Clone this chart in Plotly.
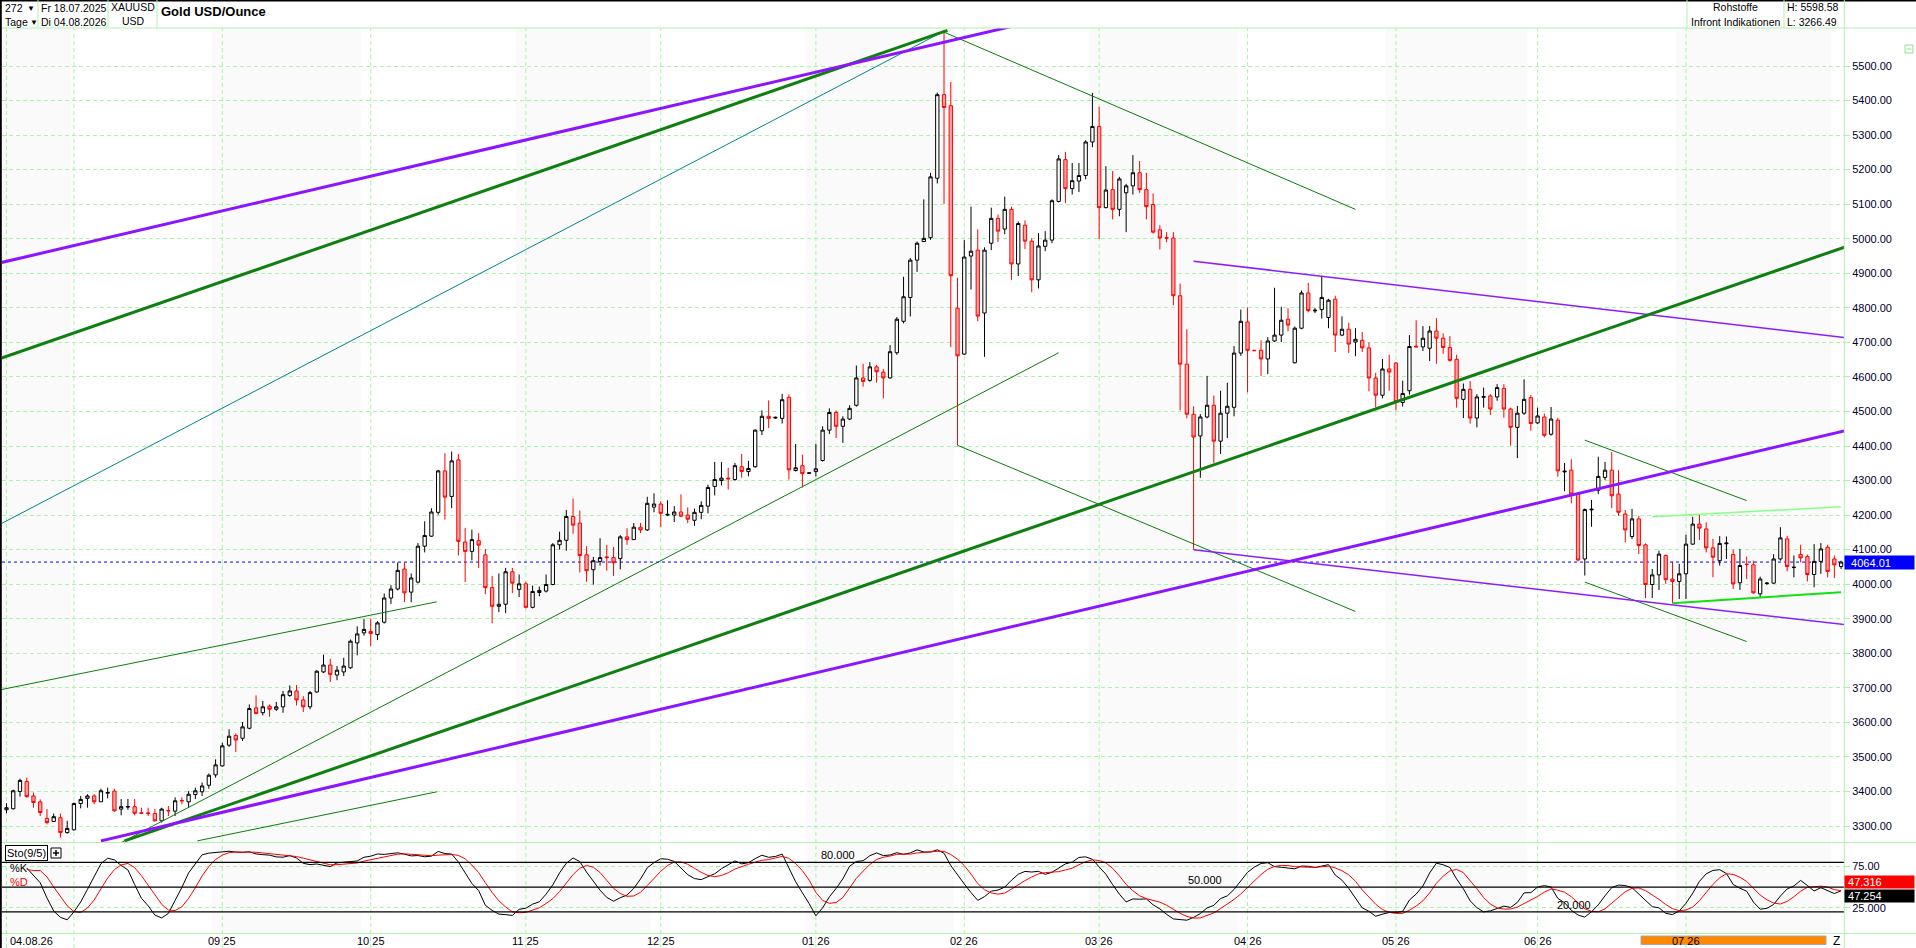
import numpy as np
import pandas as pd
import plotly.graph_objects as go

# ---------------- data ----------------
sessions = pd.bdate_range("2025-07-18", "2026-08-04")   # 273 daily sessions
bar = np.arange(len(sessions))

open_ = [
    3347, 3350, 3400, 3429, 3387, 3370, 3322, 3313, 3324, 3281,
    3289, 3365, 3380, 3387, 3370, 3395, 3401, 3349, 3355, 3356,
    3338, 3338, 3336, 3315, 3345, 3343, 3374, 3370, 3391, 3399,
    3418, 3448, 3474, 3534, 3562, 3554, 3583, 3642, 3628, 3647,
    3638, 3645, 3678, 3691, 3665, 3645, 3688, 3746, 3766, 3737,
    3746, 3758, 3830, 3859, 3863, 3854, 3890, 3960, 3986, 4044,
    3977, 4006, 4110, 4139, 4208, 4328, 4254, 4360, 4122, 4095,
    4126, 4085, 3990, 3936, 3942, 4036, 3985, 4001, 3933, 3976,
    3980, 3999, 4114, 4127, 4196, 4177, 4085, 4042, 4066, 4079,
    4077, 4074, 4137, 4129, 4165, 4157, 4223, 4232, 4200, 4200,
    4209, 4200, 4185, 4208, 4226, 4283, 4300, 4307, 4303, 4340,
    4326, 4340, 4444, 4486, 4481, 4480, 4541, 4329, 4343, 4321,
    4326, 4358, 4446, 4497, 4457, 4478, 4518, 4597, 4590, 4629,
    4614, 4597, 4670, 4761, 4830, 4938, 4992, 5003, 5175, 5417,
    5385, 4799, 4666, 4950, 4967, 4785, 4987, 5059, 5028, 5085,
    4927, 5039, 4993, 4881, 4978, 4996, 5108, 5229, 5145, 5167,
    5183, 5280, 5325, 5090, 5142, 5085, 5133, 5153, 5191, 5142,
    5099, 5026, 5003, 5002, 4835, 4637, 4492, 4429, 4484, 4518,
    4414, 4495, 4512, 4669, 4759, 4677, 4677, 4652, 4704, 4721,
    4767, 4641, 4741, 4843, 4791, 4795, 4772, 4825, 4721, 4738,
    4701, 4706, 4684, 4597, 4547, 4623, 4640, 4526, 4560, 4689,
    4687, 4683, 4733, 4712, 4685, 4651, 4535, 4564, 4481, 4541,
    4545, 4542, 4567, 4507, 4454, 4495, 4540, 4467, 4484, 4434,
    4475, 4325, 4330, 4261, 4073, 4215, 4272, 4309, 4330, 4261,
    4203, 4138, 4189, 4114, 3999, 4027, 4083, 4015, 4008, 4030,
    4116, 4174, 4160, 4105, 4068, 4117, 4086, 4004, 4058, 4056,
    3972, 4002, 4003, 4073, 4131, 4048, 4086, 4080, 4028, 4066,
    4107, 4073, 4051,
]
high = [
    3366, 3405, 3437, 3440, 3397, 3377, 3349, 3336, 3336, 3315,
    3368, 3387, 3392, 3392, 3408, 3411, 3408, 3378, 3378, 3378,
    3353, 3353, 3349, 3353, 3358, 3383, 3383, 3401, 3411, 3426,
    3452, 3493, 3541, 3580, 3568, 3601, 3652, 3678, 3662, 3652,
    3659, 3691, 3707, 3708, 3676, 3691, 3751, 3796, 3784, 3763,
    3787, 3840, 3878, 3900, 3900, 3893, 3973, 3997, 4063, 4063,
    4031, 4119, 4182, 4220, 4331, 4379, 4384, 4377, 4163, 4158,
    4148, 4102, 4024, 4031, 4047, 4047, 4028, 4007, 3996, 3993,
    4028, 4119, 4152, 4215, 4248, 4213, 4110, 4079, 4133, 4114,
    4108, 4142, 4162, 4177, 4177, 4253, 4263, 4240, 4243, 4226,
    4260, 4222, 4219, 4240, 4288, 4354, 4354, 4337, 4351, 4377,
    4357, 4448, 4503, 4532, 4485, 4551, 4549, 4406, 4375, 4323,
    4406, 4457, 4509, 4503, 4486, 4518, 4633, 4638, 4643, 4635,
    4623, 4692, 4773, 4890, 4944, 4992, 5114, 5191, 5423, 5598.58,
    5454, 4887, 4996, 5093, 5027, 4975, 5090, 5070, 5122, 5093,
    5050, 5053, 5001, 5016, 5022, 5114, 5242, 5251, 5219, 5219,
    5285, 5422, 5382, 5210, 5196, 5179, 5159, 5242, 5225, 5191,
    5131, 5039, 5019, 5019, 4870, 4738, 4515, 4492, 4603, 4546,
    4560, 4583, 4689, 4795, 4801, 4678, 4706, 4715, 4858, 4803,
    4799, 4746, 4850, 4872, 4800, 4893, 4826, 4835, 4775, 4757,
    4741, 4730, 4700, 4612, 4652, 4664, 4643, 4589, 4721, 4764,
    4747, 4747, 4770, 4726, 4718, 4664, 4581, 4588, 4550, 4569,
    4550, 4579, 4579, 4511, 4516, 4593, 4548, 4511, 4494, 4513,
    4482, 4351, 4362, 4266, 4219, 4244, 4369, 4354, 4383, 4330,
    4215, 4218, 4198, 4118, 4044, 4097, 4086, 4065, 4059, 4143,
    4195, 4203, 4179, 4131, 4139, 4138, 4100, 4102, 4080, 4068,
    4022, 4006, 4087, 4165, 4140, 4083, 4114, 4086, 4116, 4119,
    4114, 4083, 4068,
]
low = [
    3337, 3348, 3385, 3382, 3353, 3329, 3305, 3312, 3266.49, 3278,
    3287, 3351, 3353, 3363, 3370, 3380, 3341, 3331, 3347, 3331,
    3334, 3329, 3313, 3310, 3329, 3329, 3363, 3353, 3378, 3387,
    3408, 3440, 3472, 3529, 3514, 3546, 3580, 3623, 3620, 3616,
    3633, 3628, 3674, 3649, 3630, 3638, 3686, 3743, 3717, 3722,
    3734, 3755, 3794, 3851, 3821, 3838, 3886, 3943, 3982, 3948,
    3948, 4002, 4092, 4137, 4201, 4187, 4220, 4083, 4006, 4069,
    4047, 3971, 3887, 3919, 3916, 3974, 3963, 3930, 3930, 3965,
    3976, 3997, 4100, 4097, 4146, 4034, 4007, 3999, 4054, 4039,
    4024, 4043, 4114, 4129, 4148, 4154, 4208, 4165, 4197, 4180,
    4194, 4177, 4169, 4188, 4205, 4257, 4286, 4274, 4299, 4308,
    4312, 4337, 4432, 4452, 4479, 4465, 4303, 4326, 4280, 4320,
    4312, 4355, 4435, 4423, 4409, 4475, 4514, 4572, 4586, 4583,
    4538, 4595, 4664, 4755, 4775, 4904, 4990, 4997, 5160, 5101,
    4686, 4402, 4664, 4853, 4761, 4658, 4967, 4990, 5013, 4881,
    4892, 4970, 4845, 4856, 4964, 4987, 5105, 5103, 5128, 5135,
    5172, 5265, 4999, 5088, 5056, 5065, 5019, 5128, 5133, 5056,
    5015, 4969, 4990, 4807, 4503, 4480, 4100, 4308, 4480, 4351,
    4377, 4423, 4486, 4661, 4555, 4675, 4603, 4608, 4701, 4701,
    4732, 4639, 4738, 4787, 4785, 4769, 4741, 4672, 4718, 4669,
    4660, 4672, 4558, 4512, 4538, 4560, 4503, 4514, 4549, 4685,
    4675, 4646, 4638, 4667, 4644, 4511, 4481, 4465, 4454, 4511,
    4490, 4531, 4482, 4401, 4365, 4490, 4444, 4463, 4425, 4430,
    4311, 4269, 4234, 4066, 4025, 4166, 4261, 4301, 4220, 4198,
    4121, 4131, 4087, 3960, 3960, 3983, 4001, 3945, 3957, 3957,
    4114, 4128, 4092, 4020, 4054, 4073, 3986, 3983, 4015, 3972,
    3962, 3998, 4001, 4068, 4037, 4020, 4063, 4008, 3991, 4030,
    4020, 4018, 4044,
]
close = [
    3353, 3402, 3432, 3385, 3368, 3339, 3310, 3327, 3281, 3293,
    3365, 3377, 3387, 3370, 3402, 3397, 3344, 3356, 3356, 3337,
    3337, 3336, 3315, 3349, 3344, 3373, 3373, 3392, 3402, 3416,
    3447, 3477, 3532, 3560, 3549, 3587, 3640, 3626, 3645, 3638,
    3645, 3680, 3691, 3665, 3645, 3686, 3748, 3766, 3739, 3751,
    3763, 3835, 3856, 3869, 3857, 3888, 3960, 3986, 4040, 3975,
    4018, 4110, 4141, 4209, 4328, 4252, 4357, 4124, 4095, 4129,
    4113, 3990, 3936, 3942, 4036, 4003, 4001, 3933, 3979, 3982,
    3999, 4114, 4127, 4196, 4171, 4083, 4039, 4068, 4077, 4077,
    4062, 4137, 4129, 4165, 4157, 4234, 4232, 4205, 4202, 4209,
    4197, 4188, 4208, 4228, 4280, 4303, 4307, 4305, 4343, 4326,
    4335, 4446, 4486, 4480, 4483, 4534, 4331, 4337, 4320, 4322,
    4334, 4446, 4497, 4457, 4478, 4509, 4597, 4587, 4629, 4615,
    4597, 4673, 4767, 4832, 4938, 4987, 5001, 5179, 5417, 5380,
    4893, 4661, 4947, 4964, 4776, 4967, 5059, 5022, 5085, 4927,
    5044, 4993, 4881, 4979, 4996, 5110, 5231, 5145, 5168, 5183,
    5280, 5325, 5090, 5141, 5085, 5173, 5153, 5191, 5142, 5093,
    5019, 5002, 5002, 4835, 4637, 4492, 4426, 4484, 4518, 4414,
    4495, 4515, 4669, 4761, 4677, 4676, 4652, 4704, 4721, 4764,
    4750, 4741, 4843, 4792, 4793, 4830, 4822, 4721, 4738, 4695,
    4709, 4684, 4597, 4547, 4623, 4614, 4528, 4552, 4688, 4687,
    4712, 4733, 4712, 4685, 4648, 4538, 4564, 4481, 4542, 4543,
    4507, 4569, 4507, 4454, 4495, 4535, 4465, 4487, 4431, 4478,
    4328, 4327, 4261, 4070, 4216, 4217, 4312, 4330, 4256, 4208,
    4157, 4189, 4112, 3999, 4027, 4087, 4013, 4008, 4030, 4116,
    4174, 4162, 4105, 4078, 4118, 4119, 4001, 4054, 4057, 3975,
    4015, 4003, 4073, 4134, 4051, 4049, 4076, 4028, 4066, 4102,
    4037, 4056, 4064.01,
]
assert len(open_) == len(high) == len(low) == len(close) == len(sessions)

last_price = 4064.01
stoch_k_last, stoch_d_last = "47.254", "47.316"
stoch_levels = [80, 50, 20]
stoch_level_labels = ["80.000", "50.000", "20.000"]
stoch_level_label_bar = [120.6, 175.0, 229.7]

# drawn trendlines: (bar0, price0, bar1, price1)
purple_thick = [(-1, 4930, 150, 5619), (14, 3257, 273, 4446)]
green_thick = [(-1, 4653, 139.5, 5603), (17.5, 3257, 273, 4979)]
teal_thin = [(-1, 4173, 139, 5601)]
green_thin = [(139, 5598, 200, 5085), (17, 3252, 156, 4670), (28.3, 3257, 63.8, 3399),
              (-1, 3694, 63.8, 3949), (141, 4402, 200, 3921),
              (234, 4417, 258, 4242), (234, 4006, 258, 3834)]
purple_thin = [(176, 4100, 273, 3882), (176, 4935, 273, 4713)]
lime_pale = [(244, 4195, 272, 4224)]
lime_bright = [(247, 3945, 272, 3977)]

# ---------------- indicator: Stochastic (9/5) ----------------
hs, ls, cs = pd.Series(high), pd.Series(low), pd.Series(close)
hh = hs.rolling(9, min_periods=1).max()
ll = ls.rolling(9, min_periods=1).min()
raw_k = 100 * (cs - ll) / (hh - ll)
pct_k = raw_k.rolling(5, min_periods=1).mean()
pct_d = pct_k.rolling(5, min_periods=1).mean()

# ---------------- layout geometry ----------------
W, HGT = 1916, 948
ML, MR, MT, MB = 2, 72, 28, 15
PW, PH = W - ML - MR, HGT - MT - MB
FONT = "Liberation Sans, Arial, sans-serif"
GRID = "#a8f5a8"
BORDER = "#b0f0b0"


def X(px):
    return (px - ML) / PW


def Y(py):
    return (HGT - MB - py) / PH


fig = go.Figure()

# month shading + month separators
per = pd.Series(bar, index=sessions.to_period("M"))
groups = [(m, g.values) for m, g in per.groupby(level=0)]
shapes = []
grid_pos, grid_lab = [], []
for k, (m, vals) in enumerate(groups):
    first, last = int(vals[0]), int(vals[-1])
    if k % 2 == 0:
        shapes.append(dict(type="rect", xref="x", yref="paper", x0=max(first - 0.5, -0.67),
                           x1=last + 0.5, y0=0, y1=1, fillcolor="#fafafa",
                           line=dict(width=0), layer="below"))
    if k <= 1:
        grid_pos.append(first); grid_lab.append(None)
    elif k < len(groups) - 1:
        grid_pos.append(first + 1); grid_lab.append(f"{m.month:02d} {m.year % 100:02d}")

for gx in grid_pos:
    shapes.append(dict(type="line", xref="x", yref="paper", x0=gx, x1=gx, y0=Y(948), y1=1,
                       line=dict(color=GRID, width=1, dash="4px,3px"), layer="below"))

# stochastic reference lines
for lv in stoch_levels:
    shapes.append(dict(type="line", xref="paper", yref="y2", x0=0, x1=1, y0=lv, y1=lv,
                       line=dict(color="black", width=1.3)))

# last price line
shapes.append(dict(type="line", xref="paper", yref="y", x0=0, x1=1, y0=last_price, y1=last_price,
                   line=dict(color="#0000ff", width=1, dash="3px,3px"), layer="below"))


def hline(py, x0=-0.01, x1=X(W), color=BORDER, width=1):
    shapes.append(dict(type="line", xref="paper", yref="paper", x0=x0, x1=x1, y0=Y(py), y1=Y(py),
                       line=dict(color=color, width=width)))


def vline(px, py0, py1, color=BORDER, width=1):
    shapes.append(dict(type="line", xref="paper", yref="paper", x0=X(px), x1=X(px), y0=Y(py0),
                       y1=Y(py1), line=dict(color=color, width=width)))


hline(28)
hline(842.5)
hline(933.5)
hline(0.5, color="black", width=2)
vline(1844.3, 28, 948)
vline(0.8, 0, 948, color="black", width=2)
for sx in (38, 108, 157, 1687, 1784, 1844.3):
    vline(sx, 0, 28)
# small collapse icon
shapes.append(dict(type="rect", xref="paper", yref="paper", x0=X(1905), x1=X(1913), y0=Y(53), y1=Y(45),
                   line=dict(color="#90e090", width=1)))
shapes.append(dict(type="line", xref="paper", yref="paper", x0=X(1906.5), x1=X(1911.5), y0=Y(49), y1=Y(49),
                   line=dict(color="#90e090", width=1)))
# "+" box next to the indicator name
shapes.append(dict(type="rect", xref="paper", yref="paper", x0=X(51), x1=X(61), y0=Y(858), y1=Y(848),
                   fillcolor="white", line=dict(color="black", width=1)))
shapes.append(dict(type="line", xref="paper", yref="paper", x0=X(53), x1=X(59), y0=Y(853), y1=Y(853),
                   line=dict(color="black", width=1.5)))
shapes.append(dict(type="line", xref="paper", yref="paper", x0=X(56), x1=X(56), y0=Y(850), y1=Y(856),
                   line=dict(color="black", width=1.5)))
# orange period bar
shapes.append(dict(type="rect", xref="paper", yref="paper", x0=X(1641), x1=X(1826), y0=Y(944.5), y1=Y(936),
                   fillcolor="#ff8800", line=dict(color="#a8a8a8", width=1)))

# ---------------- traces ----------------
fig.add_trace(go.Candlestick(
    x=bar, open=open_, high=high, low=low, close=close,
    increasing=dict(line=dict(color="black", width=1), fillcolor="white"),
    decreasing=dict(line=dict(color="#ff0000", width=1), fillcolor="#f5a3a3"),
    whiskerwidth=0, hoverinfo="skip", showlegend=False, xaxis="x", yaxis="y"))


def add_lines(segs, color, width):
    for x0, y0, x1, y1 in segs:
        fig.add_trace(go.Scatter(x=[x0, x1], y=[y0, y1], mode="lines", xaxis="x", yaxis="y",
                                 line=dict(color=color, width=width), hoverinfo="skip",
                                 showlegend=False))


add_lines(teal_thin, "#00868b", 1)
add_lines(green_thin, "#0a7d0a", 1)
add_lines(purple_thin, "#8c1cff", 1.5)
add_lines(lime_pale, "#88ff88", 1.5)
add_lines(lime_bright, "#11e011", 2)
add_lines(green_thick, "#0f7f0f", 3)
add_lines(purple_thick, "#8c14ff", 3)

start = 3
fig.add_trace(go.Scatter(x=bar[start:], y=pct_k.values[start:], mode="lines", xaxis="x", yaxis="y2",
                         line=dict(color="black", width=1), hoverinfo="skip", showlegend=False))
fig.add_trace(go.Scatter(x=bar[start:], y=pct_d.values[start:], mode="lines", xaxis="x", yaxis="y2",
                         line=dict(color="#ff0000", width=1), hoverinfo="skip", showlegend=False))

# ---------------- annotations ----------------
ann = []


def note(text, px, py, xanchor="left", size=11, color="black", **kw):
    ann.append(dict(text=text, x=X(px), y=Y(py), xref="paper", yref="paper", xanchor=xanchor,
                    yanchor="middle", showarrow=False,
                    font=dict(family=FONT, size=size, color=color), **kw))


# header
note("272", 3, 8, size=10.5)
note("▼", 25, 8, size=8)
note("Tage", 3, 22, size=10.5)
note("▼", 28, 22, size=8)
note("Fr 18.07.2025", 39, 8, size=10.5)
note("Di 04.08.2026", 39, 22, size=10.5)
note("XAUUSD", 133, 7, xanchor="center", size=10.5)
note("USD", 133, 21, xanchor="center", size=10.5)
note("<b>Gold USD/Ounce</b>", 159, 12, size=13)
note("Rohstoffe", 1735, 7, xanchor="center", size=10.5)
note("Infront Indikationen", 1735, 22, xanchor="center", size=10.5)
note("H: 5598.58", 1785, 7, size=10.5)
note("L: 3266.49", 1785, 22, size=10.5)

# price tag
ann.append(dict(text="&nbsp;&nbsp;4064.01", x=X(1844.5), xref="paper", y=last_price, yref="y",
                xanchor="left", yanchor="middle", showarrow=False, bgcolor="#0000ff",
                font=dict(family=FONT, size=11, color="white"), width=69, height=13,
                align="left", borderpad=0))

# stochastic panel texts
note("Sto(9/5)", 5, 853, bordercolor="black", borderwidth=1, borderpad=1, bgcolor="white")
note("%K", 8, 868)
note("%D", 8, 882, color="#ff0000")
for lab, bx, lv in zip(stoch_level_labels, stoch_level_label_bar, stoch_levels):
    ann.append(dict(text=lab, x=bx, xref="x", y=lv, yref="y2", xanchor="left", yanchor="bottom",
                    showarrow=False, font=dict(family=FONT, size=11, color="black"), borderpad=0))
ann.append(dict(text="&nbsp;" + stoch_d_last, x=X(1844.5), xref="paper", y=Y(881.5), yref="paper",
                xanchor="left", yanchor="middle", showarrow=False, bgcolor="#ff0000",
                font=dict(family=FONT, size=11, color="white"), width=69, height=12, align="left",
                borderpad=0))
ann.append(dict(text="&nbsp;" + stoch_k_last, x=X(1844.5), xref="paper", y=Y(896), yref="paper",
                xanchor="left", yanchor="middle", showarrow=False, bgcolor="black",
                font=dict(family=FONT, size=11, color="white"), width=69, height=12, align="left",
                borderpad=0))

# x labels
note("04.08.26", 8, 940.5)
for gx, lab in zip(grid_pos, grid_lab):
    if lab:
        ann.append(dict(text=lab, x=gx, xref="x", y=Y(940.5), yref="paper", xanchor="center",
                        yanchor="middle", showarrow=False,
                        font=dict(family=FONT, size=11, color="black")))
note("Z", 1836, 940.5, xanchor="center", size=12)

price_ticks = list(range(3300, 5501, 100))

fig.update_layout(
    width=W, height=HGT, autosize=False,
    margin=dict(l=ML, r=MR, t=MT, b=MB, pad=0),
    paper_bgcolor="white", plot_bgcolor="white",
    showlegend=False, boxgap=0.3, hovermode=False,
    font=dict(family=FONT, size=11, color="black"),
    xaxis=dict(range=[-0.667, 272.43], showgrid=False, showticklabels=False, zeroline=False,
               showline=False, ticks="", anchor="y2", rangeslider=dict(visible=False),
               fixedrange=True),
    yaxis=dict(domain=[Y(842), 1], range=[3253.7, 5610], side="right", anchor="x",
               tickmode="array", tickvals=price_ticks, tickformat=".2f",
               showgrid=True, gridcolor=GRID, griddash="4px,3px", gridwidth=1,
               ticks="outside", ticklen=5, tickcolor=GRID, zeroline=False, showline=False,
               tickfont=dict(family=FONT, size=11, color="#00002a"), fixedrange=True),
    yaxis2=dict(domain=[0, Y(844)], range=[-5.4, 102.1], side="right", anchor="x",
                tickmode="array", tickvals=[25, 75], ticktext=["25.000", "75.00"],
                showgrid=True, gridcolor=GRID, griddash="4px,3px", gridwidth=1,
                ticks="outside", ticklen=5, tickcolor=GRID, zeroline=False, showline=False,
                tickfont=dict(family=FONT, size=11, color="#00002a"), fixedrange=True),
    shapes=shapes,
    annotations=ann,
)

fig.write_html("out.html", config={"displayModeBar": False, "staticPlot": True},
               post_script="document.body.style.margin='0';document.body.style.overflow='hidden';")
